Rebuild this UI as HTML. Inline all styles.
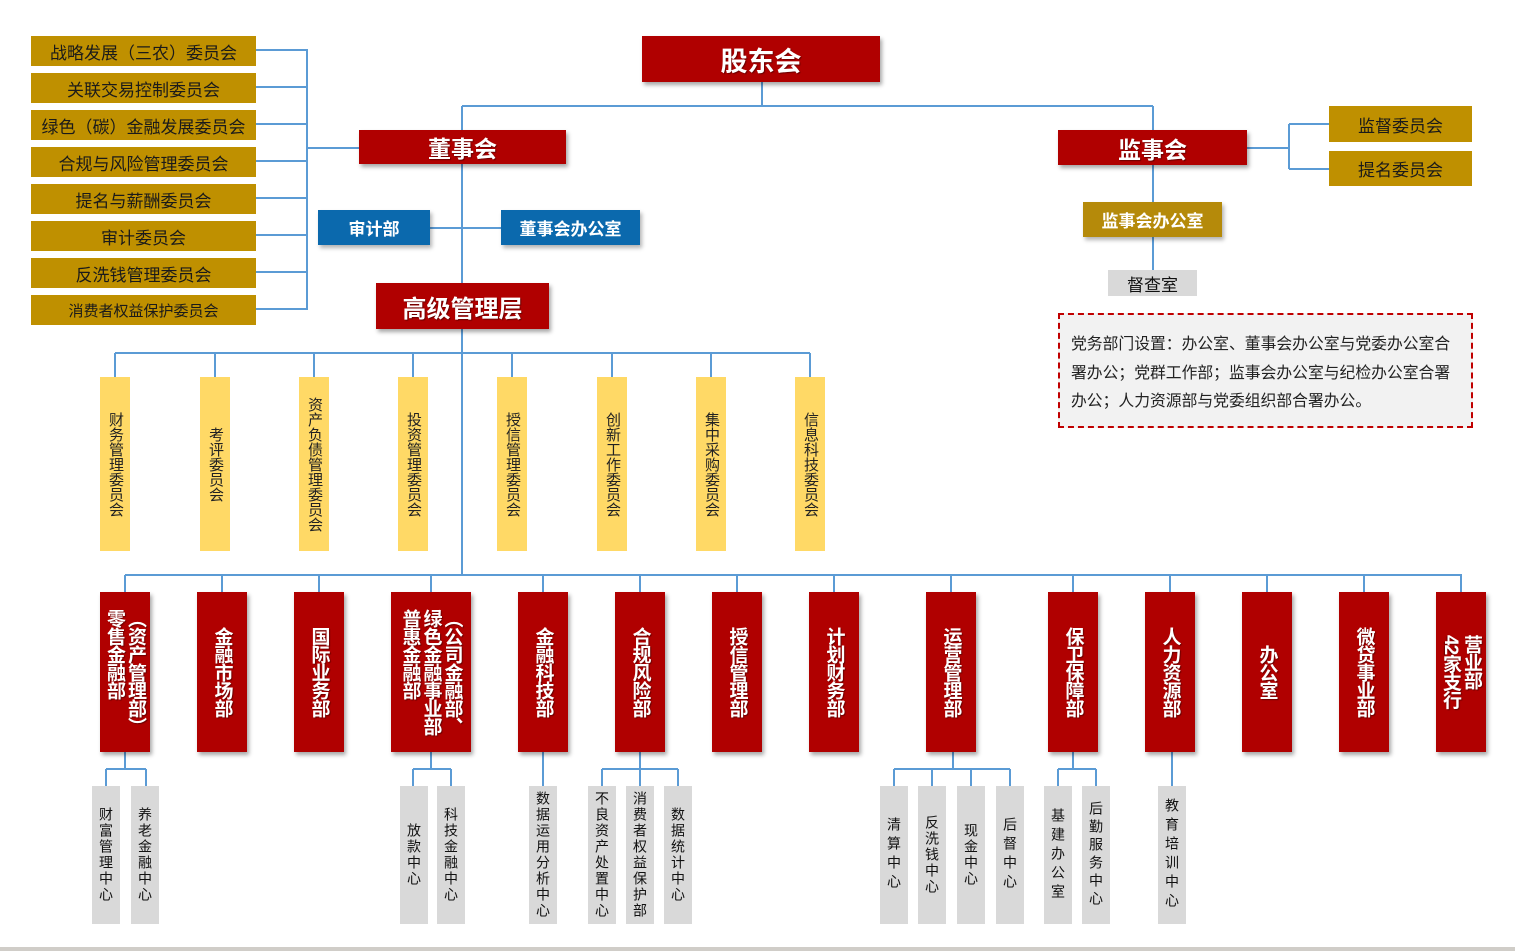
<!DOCTYPE html>
<html><head><meta charset="utf-8"><style>
body{margin:0;width:1515px;height:951px;background:#fff;position:relative;overflow:hidden;font-family:"Liberation Sans","Noto Sans CJK SC",sans-serif}
.b{position:absolute;display:flex;align-items:center;justify-content:center;box-sizing:border-box}
.g{background:#bf9000;color:#1a1a1a;font-size:17px}
.r{background:#b00000;color:#fff;font-weight:bold;box-shadow:2px 3px 4px rgba(0,0,0,.35);text-shadow:1px 1px 1px rgba(0,0,0,.4)}
.bl{background:#0b69ad;color:#fff;font-weight:bold;font-size:17px;box-shadow:2px 3px 4px rgba(0,0,0,.3)}
.y{background:#ffd966;color:#222;font-size:15px;writing-mode:vertical-rl;top:377px;height:174px;width:30px;line-height:30px}
.d{writing-mode:vertical-rl;top:592px;height:160px;font-size:19px;line-height:21px;letter-spacing:-1px}
.s{background:#d9d9d9;color:#111;font-size:14px;writing-mode:vertical-rl;top:786px;height:138px;width:28px;line-height:28px;letter-spacing:2px}
</style></head><body>
<svg width="1515" height="951" style="position:absolute;left:0;top:0" fill="none" stroke="#5b9bd5" stroke-width="2">
<path d="M256 50H307M256 87H307M256 124H307M256 161H307M256 198H307M256 235H307M256 272H307M256 309H307M307 49V310M307 148H359"/>
<path d="M762 82V106M462 106H1153M462 106V130M1153 106V130M1153 165V202M1153 237V270M1247 148H1289M1289 124V169M1289 124H1329M1289 169H1329"/>
<path d="M462 164V575M430 228H501M115 353H810M115 353V377M215 353V377M314 353V377M413 353V377M512 353V377M612 353V377M711 353V377M810 353V377"/>
<path d="M125 575H1462M125 575V592M222 575V592M319 575V592M431 575V592M543 575V592M640 575V592M737 575V592M834 575V592M951 575V592M1073 575V592M1170 575V592M1267 575V592M1364 575V592M1461 575V592"/>
<path d="M125 752V769M106 769H146M106 769V786M146 769V786M431 752V769M413 769H451M413 769V786M451 769V786M543 752V786M640 752V786M602 769H678M602 769V786M678 769V786M953 752V769M894 769H1010M894 769V786M932 769V786M971 769V786M1010 769V786M1073 752V769M1058 769H1096M1058 769V786M1096 769V786M1172 752V786"/>
</svg>
<div class="b g" style="left:31px;top:36px;width:225px;height:30px">战略发展（三农）委员会</div>
<div class="b g" style="left:31px;top:73px;width:225px;height:30px">关联交易控制委员会</div>
<div class="b g" style="left:31px;top:110px;width:225px;height:30px">绿色（碳）金融发展委员会</div>
<div class="b g" style="left:31px;top:147px;width:225px;height:30px">合规与风险管理委员会</div>
<div class="b g" style="left:31px;top:184px;width:225px;height:30px">提名与薪酬委员会</div>
<div class="b g" style="left:31px;top:221px;width:225px;height:30px">审计委员会</div>
<div class="b g" style="left:31px;top:258px;width:225px;height:30px">反洗钱管理委员会</div>
<div class="b g" style="left:31px;top:295px;width:225px;height:30px;font-size:15px">消费者权益保护委员会</div>
<div class="b r" style="left:642px;top:36px;width:238px;height:46px;font-size:27px">股东会</div>
<div class="b r" style="left:359px;top:130px;width:207px;height:34px;font-size:23px">董事会</div>
<div class="b r" style="left:1058px;top:130px;width:189px;height:35px;font-size:23px">监事会</div>
<div class="b g" style="left:1329px;top:106px;width:143px;height:36px">监督委员会</div>
<div class="b g" style="left:1329px;top:151px;width:143px;height:35px">提名委员会</div>
<div class="b" style="left:1083px;top:202px;width:139px;height:35px;background:#b58a0a;color:#fff;font-weight:bold;font-size:17px;box-shadow:2px 3px 4px rgba(0,0,0,.3)">监事会办公室</div>
<div class="b" style="left:1108px;top:270px;width:89px;height:26px;background:#d9d9d9;color:#111;font-size:17px">督查室</div>
<div style="position:absolute;left:1058px;top:313px;width:415px;height:115px;box-sizing:border-box;border:2px dashed #c00000;background:#f2f2f2;font-size:15.8px;line-height:28.5px;padding:16px 18px 0 11px;color:#222">党务部门设置：办公室、董事会办公室与党委办公室合署办公；党群工作部；监事会办公室与纪检办公室合署办公；人力资源部与党委组织部合署办公。</div>
<div class="b bl" style="left:318px;top:210px;width:112px;height:35px">审计部</div>
<div class="b bl" style="left:501px;top:210px;width:139px;height:35px">董事会办公室</div>
<div class="b r" style="left:376px;top:283px;width:173px;height:46px;font-size:24px">高级管理层</div>
<div class="b y" style="left:100px">财务管理委员会</div>
<div class="b y" style="left:200px">考评委员会</div>
<div class="b y" style="left:299px">资产负债管理委员会</div>
<div class="b y" style="left:398px">投资管理委员会</div>
<div class="b y" style="left:497px">授信管理委员会</div>
<div class="b y" style="left:597px">创新工作委员会</div>
<div class="b y" style="left:696px">集中采购委员会</div>
<div class="b y" style="left:795px">信息科技委员会</div>
<div class="b r d" style="left:100px;width:50px">（资产管理部）<br>零售金融部</div>
<div class="b r d" style="left:197px;width:50px">金融市场部</div>
<div class="b r d" style="left:294px;width:50px">国际业务部</div>
<div class="b r d" style="left:391px;width:80px">（公司金融部、<br>绿色金融事业部<br>普惠金融部</div>
<div class="b r d" style="left:518px;width:50px">金融科技部</div>
<div class="b r d" style="left:615px;width:50px">合规风险部</div>
<div class="b r d" style="left:712px;width:50px">授信管理部</div>
<div class="b r d" style="left:809px;width:50px">计划财务部</div>
<div class="b r d" style="left:926px;width:50px">运营管理部</div>
<div class="b r d" style="left:1048px;width:50px">保卫保障部</div>
<div class="b r d" style="left:1145px;width:50px">人力资源部</div>
<div class="b r d" style="left:1242px;width:50px">办公室</div>
<div class="b r d" style="left:1339px;width:50px">微贷事业部</div>
<div class="b r d" style="left:1436px;width:50px">营业部<br>42家支行</div>
<div class="b s" style="left:92px">财富管理中心</div>
<div class="b s" style="left:131px">养老金融中心</div>
<div class="b s" style="left:400px">放款中心</div>
<div class="b s" style="left:437px">科技金融中心</div>
<div class="b s" style="left:529px;letter-spacing:2px">数据运用分析中心</div>
<div class="b s" style="left:588px">不良资产处置中心</div>
<div class="b s" style="left:626px">消费者权益保护部</div>
<div class="b s" style="left:664px">数据统计中心</div>
<div class="b s" style="left:880px;letter-spacing:5px">清算中心</div>
<div class="b s" style="left:918px">反洗钱中心</div>
<div class="b s" style="left:957px">现金中心</div>
<div class="b s" style="left:996px;letter-spacing:5px">后督中心</div>
<div class="b s" style="left:1044px;letter-spacing:5px">基建办公室</div>
<div class="b s" style="left:1082px;letter-spacing:4px">后勤服务中心</div>
<div class="b s" style="left:1158px;letter-spacing:5px">教育培训中心</div>
<div style="position:absolute;left:0;top:947px;width:1515px;height:4px;background:#d0cdc8"></div>
</body></html>
